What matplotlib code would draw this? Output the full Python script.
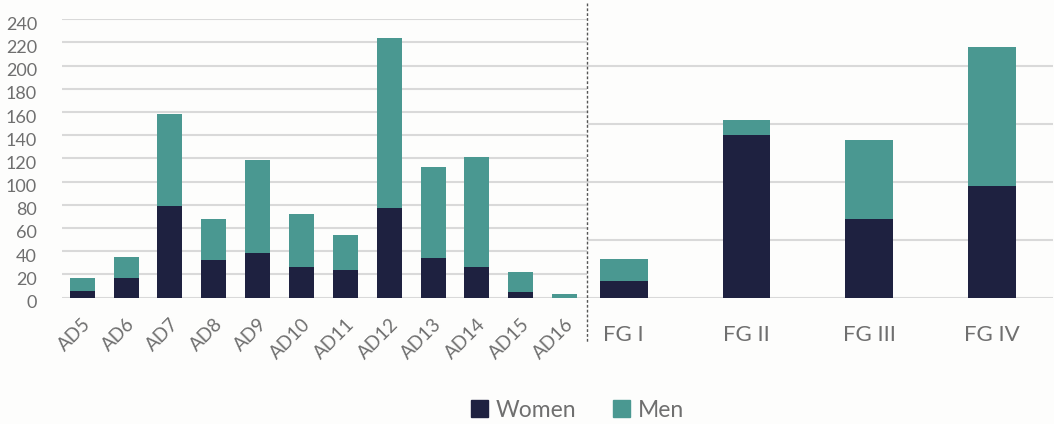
import matplotlib.pyplot as plt
from matplotlib.lines import Line2D
from matplotlib.patches import Patch
from matplotlib.transforms import ScaledTranslation

plt.rcParams['font.family'] = ['Lato', 'DejaVu Sans']

ad_labels = ['AD5', 'AD6', 'AD7', 'AD8', 'AD9', 'AD10', 'AD11', 'AD12',
             'AD13', 'AD14', 'AD15', 'AD16']
ad_women = [6, 17, 79, 32, 38, 26, 24, 77, 34, 26, 5, 0]
ad_men = [11, 18, 79, 36, 81, 46, 30, 147, 79, 95, 17, 3]

fg_labels = ['FG I', 'FG II', 'FG III', 'FG IV']
fg_women = [14, 140, 68, 96]
fg_men = [19, 13, 68, 120]

navy = '#1e2140'
teal = '#4a9891'
grid = '#d9d9d9'
txt = '#6f6f6f'

fig = plt.figure(figsize=(10.54, 4.24), dpi=100)
fig.patch.set_facecolor('#fdfdfc')

ax1 = fig.add_axes([62 / 1054, 1 - 297.5 / 424, 525 / 1054, 278.2 / 424])
ax2 = fig.add_axes([587 / 1054, 1 - 297.5 / 424, 466 / 1054, 278.2 / 424])

x1 = range(len(ad_labels))
ax1.bar(x1, ad_women, width=0.57, color=navy, zorder=3)
ax1.bar(x1, ad_men, width=0.57, bottom=ad_women, color=teal, zorder=3)
ax1.set_xlim(-0.46, 11.51)
ax1.set_ylim(0, 240)
ax1.set_yticks(range(0, 241, 20))
ax1.set_xticks(list(x1))
ax1.set_xticklabels(ad_labels, rotation=45, ha='right', rotation_mode='anchor',
                    fontsize=13.5, color=txt)
ax1.tick_params(axis='y', labelsize=13, labelcolor=txt, length=0, pad=18)
ax1.tick_params(axis='x', length=0, pad=13)
shift = ScaledTranslation(0, -4 / 100, fig.dpi_scale_trans)
for lab in ax1.get_yticklabels():
    lab.set_transform(lab.get_transform() + shift)

x2 = range(len(fg_labels))
ax2.bar(x2, fg_women, width=0.39, color=navy, zorder=3)
ax2.bar(x2, fg_men, width=0.39, bottom=fg_women, color=teal, zorder=3)
ax2.set_xlim(-0.30, 3.5)
ax2.set_ylim(0, 240)
ax2.set_yticks(range(0, 201, 50))
ax2.set_yticklabels([])
ax2.set_xticks(list(x2))
ax2.set_xticklabels(fg_labels, fontsize=16, color=txt)
ax2.tick_params(length=0)
ax2.tick_params(axis='x', pad=20)

for ax in (ax1, ax2):
    ax.set_facecolor('none')
    ax.grid(axis='y', color=grid, linewidth=1.5, zorder=0)
    for s in ax.spines.values():
        s.set_visible(False)

fig.add_artist(Line2D([587 / 1054, 587 / 1054], [1 - 3 / 424, 1 - 342 / 424],
                      color='#555555', linewidth=1, linestyle=(0, (2, 1.5))))

handles = [Patch(color=navy, label='Women'), Patch(color=teal, label='Men')]
fig.legend(handles=handles, loc='center', bbox_to_anchor=(0.548, 0.033), ncol=2,
           frameon=False, fontsize=16.5, labelcolor=txt, handlelength=0.75,
           handleheight=0.75, handletextpad=0.35, columnspacing=1.6)

fig.savefig('out.png', dpi=100, facecolor=fig.get_facecolor())
